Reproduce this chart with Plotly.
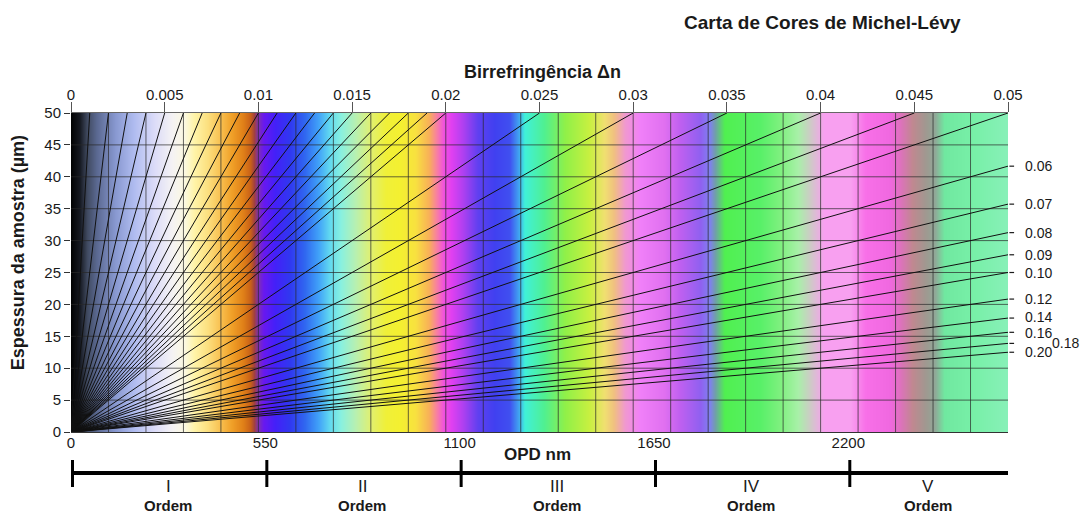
import numpy as np
import plotly.graph_objects as go

# ---------------- data ----------------
T_MAX = 50            # sample thickness (µm), top of chart
DN_MAX = 0.05         # birefringence at the right edge (top axis)
OPD_MAX = 2652        # OPD (nm) at the right edge of the bottom axis

fan_dn = [0.001, 0.002, 0.003, 0.004, 0.005, 0.006, 0.007, 0.008, 0.009, 0.010,
          0.011, 0.012, 0.013, 0.014, 0.015, 0.016, 0.017, 0.018, 0.019, 0.020,
          0.025, 0.030, 0.035, 0.040, 0.045, 0.050,
          0.06, 0.07, 0.08, 0.09, 0.10, 0.12, 0.14, 0.16, 0.18, 0.20]

right_dn = [0.06, 0.07, 0.08, 0.09, 0.10, 0.12, 0.14, 0.16, 0.18, 0.20]
right_text = ["0.06", "0.07", "0.08", "0.09", "0.10", "0.12", "0.14", "0.16", "0.18", "0.20"]

top_ticks = [0, 0.005, 0.01, 0.015, 0.02, 0.025, 0.03, 0.035, 0.04, 0.045, 0.05]
top_text = ["0", "0.005", "0.01", "0.015", "0.02", "0.025", "0.03", "0.035", "0.04", "0.045", "0.05"]

thick_ticks = [0, 5, 10, 15, 20, 25, 30, 35, 40, 45, 50]

opd_ticks = [0, 550, 1100, 1650, 2200]
order_bounds = [0, 550, 1100, 1650, 2200, 2652]
order_names = ["I", "II", "III", "IV", "V"]

# interference colours sampled along the birefringence axis
color_dn = [0.0000, 0.0005, 0.0009, 0.0014, 0.0024, 0.0034, 0.0045, 0.0054, 0.0061,
            0.0066, 0.0073, 0.0080, 0.0086, 0.0092, 0.0096, 0.0098, 0.0100, 0.0103,
            0.0109, 0.0117, 0.0125, 0.0132, 0.0138, 0.0144, 0.0152, 0.0160, 0.0168,
            0.0176, 0.0184, 0.0191, 0.0195, 0.0199, 0.0203, 0.0209, 0.0217, 0.0226,
            0.0234, 0.0239, 0.0242, 0.0253, 0.0264, 0.0277, 0.0285, 0.0290, 0.0296,
            0.0304, 0.0317, 0.0325, 0.0336, 0.0341, 0.0344, 0.0349, 0.0368, 0.0379,
            0.0388, 0.0395, 0.0402, 0.0416, 0.0424, 0.0437, 0.0442, 0.0449, 0.0456,
            0.0461, 0.0466, 0.0482, 0.0500]
color_hex = ["#000000", "#151820", "#404a60", "#5a6890", "#8898d0", "#b0bcf0", "#dcdcf8",
             "#f4f2f4", "#fbf8e0", "#fff4a8", "#fce080", "#f8c050", "#f0a028", "#e08018",
             "#c86018", "#a04040", "#8030b0", "#6818f0", "#4420f8", "#3038f0", "#3068f0",
             "#40a0f8", "#60d8f0", "#88f0e0", "#b8f0b0", "#e0f070", "#f0f038", "#f4f030",
             "#f8e040", "#f8b058", "#f880a0", "#f050e0", "#e040f0", "#b040f0", "#6040f0",
             "#4040f0", "#4050f0", "#40a8f0", "#40f0d8", "#50f090", "#90f048", "#c8f040",
             "#f0e070", "#f0c080", "#f098d0", "#f080f8", "#e070f0", "#c060f0", "#9060f0",
             "#8080f0", "#70a0a8", "#50f050", "#58f068", "#80f080", "#a8f0a8", "#d0c8c8",
             "#f8a0f0", "#f8a0f0", "#f870e8", "#f068e0", "#e070c0", "#c08890", "#a09890",
             "#90a898", "#70e8a0", "#78f0a8", "#88f0b8"]

# ---------------- layout geometry ----------------
W, H = 1082, 516
ML, MR, MT, MB = 71, 74, 113, 84
PH = H - MT - MB
FONT = "Liberation Sans, Arial, sans-serif"
TXT = "#1a1a1a"


def py(px_y):
    """paper y for an absolute pixel row below the plot area"""
    return -(px_y - (MT + PH)) / PH


fig = go.Figure()

# background interference colours
xs_bg = np.linspace(0, DN_MAX, 940)
colorscale = [[d / DN_MAX, c] for d, c in zip(color_dn, color_hex)]
fig.add_trace(go.Heatmap(x=xs_bg, y=[0, T_MAX], z=[xs_bg, xs_bg],
                         colorscale=colorscale, zmin=0, zmax=DN_MAX,
                         showscale=False, hoverinfo="skip",
                         xaxis="x2", yaxis="y"))

# grid (drawn as a trace so it sits above the colours)
gx, gy = [], []
for g in np.arange(0.002, DN_MAX - 1e-9, 0.002):
    gx += [g, g, None]
    gy += [0, T_MAX, None]
for t in thick_ticks[1:-1]:
    gx += [0, DN_MAX, None]
    gy += [t, t, None]
fig.add_trace(go.Scatter(x=gx, y=gy, mode="lines",
                         line=dict(color="rgba(40,40,40,0.7)", width=1),
                         hoverinfo="skip", showlegend=False, xaxis="x2", yaxis="y"))

# birefringence fan lines
lx, ly = [], []
for b in fan_dn:
    t_end = min(T_MAX, T_MAX * DN_MAX / b)
    lx += [0, b * t_end / T_MAX, None]
    ly += [0, t_end, None]
fig.add_trace(go.Scatter(x=lx, y=ly, mode="lines",
                         line=dict(color="#111111", width=1),
                         hoverinfo="skip", showlegend=False, xaxis="x2", yaxis="y"))

# invisible trace to keep the bottom OPD axis alive
fig.add_trace(go.Scatter(x=[0, OPD_MAX], y=[0, 0], mode="markers",
                         marker=dict(opacity=0), hoverinfo="skip", showlegend=False,
                         xaxis="x", yaxis="y"))

annotations = []
shapes = []
# right-hand birefringence labels (short dash + value)
nudge = {"0.14": 1, "0.16": -1}
for b, txt in zip(right_dn, right_text):
    t_end = T_MAX * DN_MAX / b
    shapes.append(dict(type="line", xref="paper", yref="y", x0=1.0015, x1=1.0065,
                       y0=t_end, y1=t_end, line=dict(color=TXT, width=1.2)))
    shift = 42 if txt == "0.18" else 15
    annotations.append(dict(x=DN_MAX, y=t_end, xref="x2", yref="y", text=txt,
                            showarrow=False, xanchor="left", yanchor="middle", xshift=shift,
                            yshift=nudge.get(txt, 0),
                            font=dict(family=FONT, size=14, color=TXT)))

# titles
annotations.append(dict(text="<b>Carta de Cores de Michel-Lévy</b>", xref="paper", yref="paper",
                        x=0.8015, y=1, yshift=91, showarrow=False, xanchor="center",
                        yanchor="middle", font=dict(family=FONT, size=19, color=TXT)))
annotations.append(dict(text="<b>Birrefringência Δn</b>", xref="paper", yref="paper",
                        x=0.503, y=1, yshift=41, showarrow=False, xanchor="center",
                        yanchor="middle", font=dict(family=FONT, size=18, color=TXT)))
annotations.append(dict(text="<b>OPD nm</b>", xref="paper", yref="paper",
                        x=0.4975, y=0, yshift=-22, showarrow=False, xanchor="center",
                        yanchor="middle", font=dict(family=FONT, size=17, color=TXT)))
annotations.append(dict(text="<b>Espessura da amostra (µm)</b>", xref="paper", yref="paper",
                        x=0, xshift=-53, y=0.56, showarrow=False, textangle=-90,
                        xanchor="center", yanchor="middle",
                        font=dict(family=FONT, size=18, color=TXT)))

# order bar
BAR_Y = py(473)
shapes.append(dict(type="line", xref="x", yref="paper", x0=order_bounds[0], x1=order_bounds[-1],
                   y0=BAR_Y, y1=BAR_Y, line=dict(color="black", width=4)))
for ob in order_bounds[:-1]:
    shapes.append(dict(type="line", xref="x", yref="paper", xsizemode="pixel", xanchor=ob,
                       x0=1.5, x1=1.5, y0=py(460), y1=py(487),
                       line=dict(color="black", width=3)))
for i, name in enumerate(order_names):
    mid = (order_bounds[i] + order_bounds[i + 1]) / 2
    annotations.append(dict(text=name, xref="x", yref="paper", x=mid, y=py(486),
                            showarrow=False, xanchor="center",
                            yanchor="middle", font=dict(family=FONT, size=17, color=TXT)))
    annotations.append(dict(text="<b>Ordem</b>", xref="x", yref="paper", x=mid, y=py(505),
                            showarrow=False, xanchor="center",
                            yanchor="middle", font=dict(family=FONT, size=15, color=TXT)))

fig.update_layout(
    width=W, height=H,
    margin=dict(l=ML, r=MR, t=MT, b=MB, pad=0),
    paper_bgcolor="white", plot_bgcolor="white",
    showlegend=False,
    xaxis=dict(range=[0, OPD_MAX], tickvals=opd_ticks, ticktext=[str(v) for v in opd_ticks],
               ticks="", showgrid=False, zeroline=False, showline=True,
               linecolor="#333333", linewidth=1, layer="above traces",
               ticklabelstandoff=-3,
               tickfont=dict(family=FONT, size=15, color=TXT), fixedrange=True),
    xaxis2=dict(range=[0, DN_MAX], overlaying="x", side="top", anchor="y",
                tickvals=top_ticks, ticktext=top_text, ticks="outside", ticklen=10,
                tickcolor="#555555", showgrid=False, zeroline=False, showline=True,
                linecolor="#666666", linewidth=1, layer="above traces",
                ticklabelstandoff=-4,
                tickfont=dict(family=FONT, size=15, color=TXT), fixedrange=True),
    yaxis=dict(range=[0, T_MAX], tickvals=thick_ticks, ticks="outside", ticklen=6,
               tickcolor="#333333", showgrid=False, zeroline=False, showline=False,
               tickfont=dict(family=FONT, size=15, color=TXT), fixedrange=True),
    annotations=annotations,
    shapes=shapes,
)

fig.write_html("out.html")
